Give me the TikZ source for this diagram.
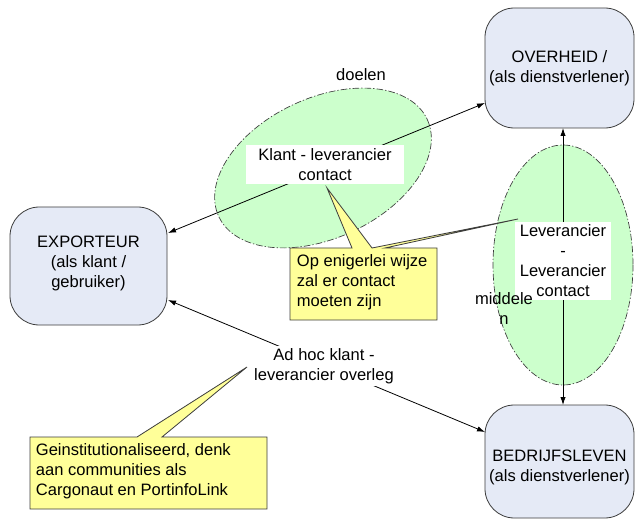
\documentclass[tikz,border=0pt]{standalone}
\usepackage{fontspec}
\setmainfont{Liberation Sans}
\usetikzlibrary{arrows.meta}
\definecolor{boxblue}{RGB}{229,234,246}
\definecolor{lgreen}{RGB}{204,255,204}
\definecolor{lyellow}{RGB}{255,255,153}
\definecolor{edge}{RGB}{60,60,60}
\tikzset{
  txt/.style={font=\fontsize{12.4}{15}\selectfont, align=center, inner sep=2pt},
  party/.style={draw=edge, fill=boxblue, rounded corners=22pt, line width=0.6pt},
  zone/.style={draw=edge, fill=lgreen, line width=0.5pt, dash pattern=on 5pt off 1.5pt on 1pt off 1.5pt},
  note/.style={draw=edge, fill=lyellow, line width=0.6pt},
  conn/.style={line width=0.6pt, {Latex[length=6pt,width=4pt]}-{Latex[length=6pt,width=4pt]}},
  whitelbl/.style={txt, fill=white}
}
\begin{document}
\begin{tikzpicture}[x=0.75pt,y=-0.75pt]
\clip (0,0) rectangle (635,520);
% parties
\draw[party] (485,8) rectangle (634,128);
\node[txt] (overheid) at (559.5,68) {OVERHEID /\\(als dienstverlener)};
\coordinate (ovL) at (485,103);
\coordinate (ovB) at (563,128);
\draw[party] (10,207) rectangle (167,325);
\node[txt] (exporteur) at (88.5,263) {EXPORTEUR\\(als klant /\\gebruiker)};
\coordinate (exT) at (168,233);
\coordinate (exB) at (168,300);
\draw[party] (485,405) rectangle (634,518);
\node[txt] (bedrijf) at (559.5,467) {BEDRIJFSLEVEN\\(als dienstverlener)};
\coordinate (beT) at (563,405);
\coordinate (beL) at (485,432);
% zones
\draw[zone] (323,168) ellipse [x radius=115, y radius=70, rotate=25];
\draw[zone] (563,265) ellipse [x radius=70, y radius=120];
% connectors
\draw[conn] (exT) -- (ovL);
\draw[conn] (ovB) -- (beT);
\draw[conn] (exB) -- (beL);
% labels
\node[whitelbl, minimum width=158*0.75pt, minimum height=39*0.75pt] (klc) at (325,165) {Klant - leverancier\\contact};
\node[whitelbl, minimum width=96*0.75pt] (llc) at (563,261) {Leverancier\\-\\Leverancier\\contact};
\node[whitelbl] (adhoc) at (324,366) {Ad hoc klant -\\leverancier overleg};
\node[txt] (doelen) at (361,75) {doelen};
\node[txt] (middelen) at (504,309) {middele\\n};
% callouts
\draw[note] (290,248) -- (352,248) -- (327,188) -- (372,248) -- (518,219) -- (385,248) -- (437,248) -- (437,320) -- (290,320) -- cycle;
\node[txt, align=left, anchor=north west] (note1) at (294,252) {Op enigerlei wijze\\zal er contact\\moeten zijn};
\draw[note] (30,437) -- (137,437) -- (247,367) -- (162,437) -- (267,437) -- (267,509) -- (30,509) -- cycle;
\node[txt, align=left, anchor=north west] (note2) at (33,441) {Geinstitutionaliseerd, denk\\aan communities als\\Cargonaut en PortinfoLink};
\end{tikzpicture}
\end{document}
